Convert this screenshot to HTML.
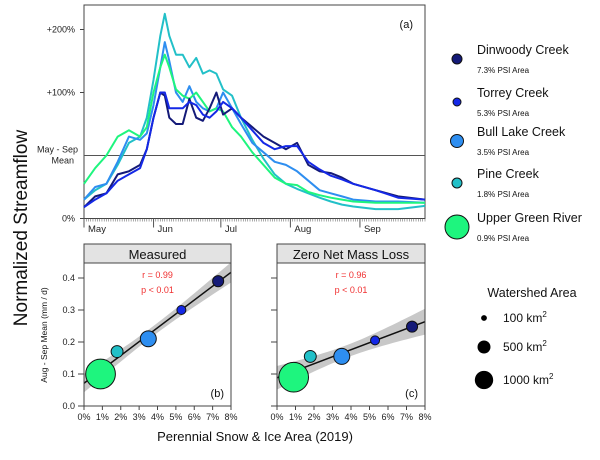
<!DOCTYPE html>
<html><head><meta charset="utf-8"><style>
body{margin:0;background:#fff;font-family:"Liberation Sans",sans-serif}
svg text{font-family:"Liberation Sans",sans-serif}
</style></head><body>
<svg id="s" width="600" height="455" xmlns="http://www.w3.org/2000/svg"></svg>
<script>
const days=[0,5,10,15,20,25,28,31,34,36,38,41,44,47,50,53,56,59,62,66,70,75,80,85,90,95,100,105,110,115,120,130,140,152];
const pineFlow=[0.3,0.45,0.55,0.85,1.2,1.3,1.6,2.2,2.9,3.25,2.9,2.6,2.6,2.4,2.55,2.3,2.35,2.3,2.05,1.95,1.6,1.25,0.95,0.7,0.55,0.47,0.4,0.33,0.27,0.22,0.19,0.15,0.15,0.2];
const bullFlow=[0.3,0.5,0.55,0.9,1.3,1.25,1.35,1.8,2.4,2.8,2.5,2.0,1.85,2.1,1.85,1.75,1.7,1.75,2.0,1.75,1.5,1.2,1.05,0.9,0.85,0.75,0.6,0.45,0.4,0.35,0.3,0.27,0.27,0.25];
const greenFlow=[0.55,0.8,1.0,1.3,1.4,1.3,1.45,2.0,2.4,2.6,2.4,2.05,1.95,1.9,2.0,1.85,1.7,1.75,1.7,1.45,1.3,1.05,0.85,0.65,0.55,0.53,0.42,0.37,0.33,0.3,0.27,0.25,0.25,0.25];
const dinwoodyFlow=[0.18,0.35,0.4,0.7,0.75,0.85,1.1,1.6,2.0,1.95,1.6,1.5,1.5,1.9,1.6,1.55,1.75,2.0,1.65,1.75,1.6,1.45,1.3,1.2,1.1,1.2,0.85,0.75,0.72,0.65,0.55,0.45,0.35,0.3];
const torreyFlow=[0.18,0.3,0.4,0.6,0.7,0.8,1.1,1.6,2.0,2.0,1.75,1.75,1.75,1.85,1.8,1.65,1.6,1.7,1.85,1.75,1.6,1.4,1.2,1.1,1.15,1.15,0.9,0.78,0.68,0.62,0.55,0.45,0.33,0.3];
const monthLabels=["May","Jun","Jul","Aug","Sep"];
const monthStarts=[0,31,61,92,123];
const yTickVals=[0,2,3];
const yTickLabels=["0%","+100%","+200%"];
const names=["Dinwoody Creek","Torrey Creek","Bull Lake Creek","Pine Creek","Upper Green River"];
const psi=[7.3,5.3,3.5,1.8,0.9];
const areas=[250,165,520,290,1800];
const measured=[0.39,0.30,0.21,0.17,0.10];
const zeroLoss=[0.248,0.205,0.155,0.155,0.09];
const colors=["#141a78","#1428e6","#2e8ef0","#22c0c8","#1ef57e"];
const sizeLegend=[100,500,1000];

const S=document.getElementById('s');const NS="http://www.w3.org/2000/svg";
function el(t,a,txt){const e=document.createElementNS(NS,t);for(const k in a)e.setAttribute(k,a[k]);if(txt!==undefined)e.textContent=txt;S.appendChild(e);return e;}
const X0=84,X1=425,Y0=218.5;
const xd=d=>X0+d*(X1-X0)/152;
const yv=v=>Y0-63*v;
let e=el('rect',{x:X0,y:5,width:X1-X0,height:Y0-5,fill:'none',stroke:'#444','stroke-width':1});

e=el('line',{x1:X0,x2:X1,y1:yv(1),y2:yv(1),stroke:'#555','stroke-width':1});

e=el('text',{x:78,y:yv(1)-3,'font-size':9,'text-anchor':'end',fill:'#222'},'May - Sep');

e=el('text',{x:74,y:yv(1)+8,'font-size':9,'text-anchor':'end',fill:'#222'},'Mean');

yTickVals.forEach((v,i)=>{
 e=el('line',{x1:X0-4,x2:X0,y1:yv(v),y2:yv(v),stroke:'#444'});
 
 e=el('text',{x:X0-9,y:yv(v)+3,'font-size':9,'text-anchor':'end',fill:'#222'},yTickLabels[i]);
 
});
for(let d=0;d<=152;d++){const big=monthStarts.includes(d);
 e=el('line',{x1:xd(d),x2:xd(d),y1:Y0,y2:Y0+(big?9:3),stroke:'#555','stroke-width':big?1:0.5});
 }
monthLabels.forEach((m,i)=>{
 e=el('text',{x:xd(monthStarts[i])+4,y:232,'font-size':9.5,fill:'#222'},m);
 });
const series=[[pineFlow,3],[bullFlow,2],[greenFlow,4],[dinwoodyFlow,0],[torreyFlow,1]];
series.forEach(([arr,ci])=>{
 const pts=arr.map((v,i)=>xd(days[i]).toFixed(1)+','+yv(v).toFixed(1)).join(' ');
 e=el('polyline',{points:pts,fill:'none',stroke:colors[ci],'stroke-width':2,'stroke-linejoin':'round'});
 
});
e=el('text',{x:413,y:28,'font-size':11,'text-anchor':'end',fill:'#111'},'(a)');

e=el('text',{x:0,y:0,'font-size':19,'text-anchor':'middle',fill:'#111',transform:'translate(27,228) rotate(-90)'},'Normalized Streamflow');

const rad=a=>0.35*Math.sqrt(a);
function panel(px0,px1,title,vals,lab,showY){
 const py0=406,pyT=244,hdr=263;
 const xs=p=>px0+p*(px1-px0)/8, ys=v=>py0-v*320;
 e=el('rect',{x:px0,y:pyT,width:px1-px0,height:hdr-pyT,fill:'#e3e3e3',stroke:'#444'});
 
 e=el('text',{x:(px0+px1)/2,y:259,'font-size':13,'text-anchor':'middle',fill:'#111'},title);
 
 const n=psi.length,mx=psi.reduce((a,b)=>a+b)/n,my=vals.reduce((a,b)=>a+b)/n;
 let sxx=0,sxy=0;psi.forEach((x,i)=>{sxx+=(x-mx)**2;sxy+=(x-mx)*(vals[i]-my);});
 const b=sxy/sxx,a=my-b*mx;let sse=0;psi.forEach((x,i)=>sse+=(vals[i]-a-b*x)**2);
 const se=Math.sqrt(sse/(n-2))*2.2;
 const up=[],dn=[];
 for(let x=0;x<=8.001;x+=0.25){const hw=se*Math.sqrt(1/n+(x-mx)**2/sxx);up.push(xs(x)+','+ys(a+b*x+hw));dn.unshift(xs(x)+','+ys(a+b*x-hw));}
 e=el('clipPath',{id:'c'+px0});const r=document.createElementNS(NS,'rect');
 r.setAttribute('x',px0);r.setAttribute('y',hdr);r.setAttribute('width',px1-px0);r.setAttribute('height',py0-hdr);e.appendChild(r);
 e=el('polygon',{points:up.concat(dn).join(' '),fill:'#c8c8c8','clip-path':'url(#c'+px0+')'});
 
 e=el('line',{x1:xs(0),y1:ys(a),x2:xs(8),y2:ys(a+b*8),stroke:'#111','stroke-width':1.5,'clip-path':'url(#c'+px0+')'});
 
 e=el('rect',{x:px0,y:hdr,width:px1-px0,height:py0-hdr,fill:'none',stroke:'#444'});
 
 psi.forEach((p,i)=>{
  e=el('circle',{cx:xs(p),cy:ys(vals[i]),r:rad(areas[i]),fill:colors[i],stroke:'#111','stroke-width':1});
  });
 for(let v=0;v<=4;v++){
  e=el('line',{x1:px0-6,x2:px0,y1:ys(v/10),y2:ys(v/10),stroke:'#444'});
  
  if(showY){e=el('text',{x:px0-9,y:ys(v/10)+3,'font-size':9,'text-anchor':'end',fill:'#222'},(v/10).toFixed(1));
  }}
 for(let p=0;p<=8;p++){
  e=el('line',{x1:xs(p),x2:xs(p),y1:py0,y2:py0+4,stroke:'#444'});
  
  e=el('text',{x:xs(p),y:py0+14,'font-size':9,'text-anchor':'middle',fill:'#222'},p+'%');
  }
 e=el('text',{x:(px0+px1)/2,y:278,'font-size':9,'text-anchor':'middle',fill:'#f03030'},'r = '+Math.abs(sxy/Math.sqrt(sxx*vals.reduce((s,v)=>s+(v-my)**2,0))).toFixed(2));
 
 e=el('text',{x:(px0+px1)/2,y:293,'font-size':9,'text-anchor':'middle',fill:'#f03030'},'p < 0.01');
 
 e=el('text',{x:px1-7,y:397,'font-size':11,'text-anchor':'end',fill:'#111'},lab);
 
}
panel(84,231,'Measured',measured,'(b)',true);
panel(277,425,'Zero Net Mass Loss',zeroLoss,'(c)',false);
e=el('text',{x:0,y:0,'font-size':8.5,'text-anchor':'middle',fill:'#111',transform:'translate(47,335) rotate(-90)'},'Aug - Sep Mean (mm / d)');

e=el('text',{x:255,y:441,'font-size':13,'text-anchor':'middle',fill:'#111'},'Perennial Snow & Ice Area (2019)');

const ly=[54,97,136,178,222],lr=[5,4,6.5,5,12];
names.forEach((nm,i)=>{
 e=el('circle',{cx:457,cy:ly[i]+5,r:lr[i],fill:colors[i],stroke:'#111'});
 
 e=el('text',{x:477,y:ly[i],'font-size':12.5,fill:'#111'},nm);
 
 e=el('text',{x:477,y:ly[i]+19,'font-size':8,fill:'#111'},psi[i]+'% PSI Area');
 
});
e=el('text',{x:532,y:297,'font-size':12.5,'text-anchor':'middle',fill:'#111'},'Watershed Area');

const sy=[318,347,380];
sizeLegend.forEach((a,i)=>{
 e=el('circle',{cx:484,cy:sy[i],r:0.29*Math.sqrt(a),fill:'#000'});
 
 const t=el('text',{x:503,y:sy[i]+4,'font-size':12,fill:'#111'},a+' km');
 const sp=document.createElementNS(NS,'tspan');sp.setAttribute('dy','-5');sp.setAttribute('font-size','8');sp.textContent='2';t.appendChild(sp);
 
});
</script>
</body></html>
